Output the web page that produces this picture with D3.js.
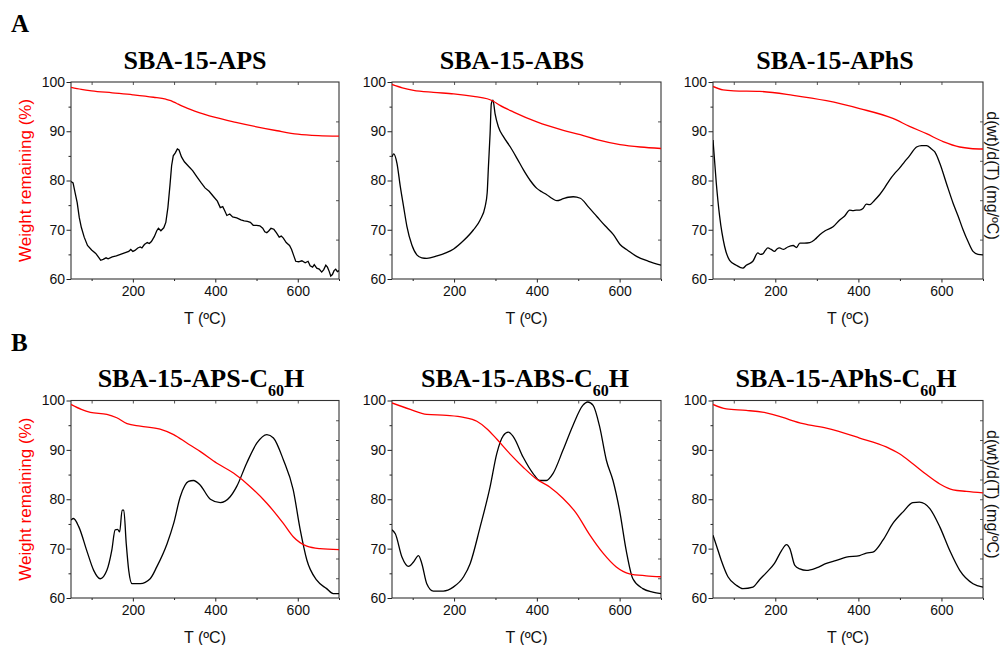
<!DOCTYPE html>
<html><head><meta charset="utf-8">
<script src="https://cdn.jsdelivr.net/npm/d3@7"></script>
<style>body{margin:0;background:#fff} svg{display:block}</style>
</head><body><svg id="c" width="1003" height="645"></svg>
<script>
// ---------- DATA ----------
const xTickValues = [200, 400, 600];
const yTickValues = [60, 70, 80, 90, 100];
const panelLetters = ["A", "B"];
const titleParts = [
  ["SBA-15-APS"], ["SBA-15-ABS"], ["SBA-15-APhS"],
  ["SBA-15-APS-C", "60", "H"], ["SBA-15-ABS-C", "60", "H"], ["SBA-15-APhS-C", "60", "H"]
];
const xLabel = "T (ºC)";
const yLabelLeft = "Weight remaining (%)";
const yLabelRight = "d(wt)/d(T) (mg/ºC)";

// SBA-15-APS
const apsTgaT = [50,75,100,150,200,250,280,292,300,310,320,350,400,450,500,550,600,650,700];
const apsTgaW = [98.9,98.5,98.2,97.8,97.4,96.9,96.5,96.2,95.9,95.5,95.1,94.1,92.8,91.8,90.9,90.1,89.4,89.1,89.0];
const apsDtgT = [50,55,60,65,70,75,82,90,100,110,118,122,128,135,140,150,160,170,180,190,195,200,205,212,218,222,228,235,240,245,252,258,262,268,275,280,285,290,294,298,303,308,312,318,325,335,345,355,365,375,385,395,405,412,418,422,428,435,442,452,462,470,478,485,492,500,508,515,520,525,530,535,542,548,555,560,565,572,580,585,590,595,602,610,618,625,630,636,640,646,652,658,663,668,672,676,680,684,688,692,696,700];
const apsDtgV = [79.8,79.5,77.5,75.5,72.5,70.5,68.5,66.8,65.9,65.2,64.3,63.8,64.0,64.3,64.1,64.5,64.7,65.0,65.3,65.6,66.0,65.6,65.8,66.3,66.5,66.3,67.0,67.4,67.2,67.6,68.6,69.8,70.3,69.8,70.4,71.5,74.5,79.0,83.0,85.0,85.6,86.4,86.2,84.8,83.8,82.9,82.0,80.8,79.6,78.5,77.8,76.8,75.8,74.5,74.7,74.0,72.9,73.2,72.6,72.4,72.0,71.8,71.7,71.5,70.9,70.9,70.8,70.3,69.6,69.4,69.8,70.3,70.1,69.4,68.5,68.7,68.3,67.4,66.8,66.0,64.8,63.6,63.5,63.7,63.3,63.6,62.7,62.4,62.9,62.2,62.0,61.4,61.9,62.8,62.4,61.6,60.6,60.9,61.7,62.0,61.5,61.7];

// SBA-15-ABS
const absTgaT = [50,75,102,150,199,247,280,295,310,344,400,464,505,545,601,650,700];
const absTgaW = [99.5,98.8,98.3,97.9,97.6,97.1,96.6,96.1,95.3,93.9,91.9,90.2,89.3,88.3,87.3,86.8,86.5];
const absDtgT = [50,54,62,70,78,86,98,110,122,134,159,180,199,223,247,263,275,280,283,287,290,294,299,307,320,336,352,368,384,400,412,424,436,448,464,476,488,505,525,545,565,585,601,620,641,670,700];
const absDtgV = [84.8,85.4,83.5,78.8,74.7,70.7,66.9,64.9,64.3,64.2,64.7,65.3,66.1,67.8,70.0,72.0,74.7,77.5,82.8,89.5,95.6,96.3,93.6,90.9,88.8,86.8,84.5,82.1,80.0,78.4,77.7,77.1,76.4,75.9,76.3,76.6,76.7,76.4,74.6,72.7,70.8,69.0,67.0,65.8,64.6,63.6,62.8];

// SBA-15-APhS
const aphsTgaT = [50,74,100,162,243,323,403,483,523,564,604,644,670,700];
const aphsTgaW = [99.1,98.4,98.2,98.1,97.3,96.2,94.6,92.6,91.0,89.5,87.9,86.8,86.5,86.4];
const aphsDtgT = [50,58,66,78,90,106,122,130,146,158,164,170,176,182,190,198,204,210,220,230,243,251,259,270,283,295,307,320,339,355,367,379,387,395,403,411,419,427,439,451,463,475,487,499,511,523,540,552,564,576,584,596,612,628,640,652,664,676,688,700];
const aphsDtgV = [88.2,79.4,72.7,66.6,63.8,62.8,62.2,62.8,63.6,65.3,65.0,65.1,65.8,66.3,66.0,65.6,66.1,66.3,66.0,66.5,66.8,66.4,67.3,67.3,67.4,68.0,69.0,69.8,70.6,72.0,72.8,74.0,73.9,74.0,74.0,74.3,75.2,75.1,76.0,77.1,78.5,80.1,81.4,82.5,83.8,85.0,86.8,87.1,87.1,86.4,85.8,83.5,79.4,75.4,72.8,70.0,67.6,65.6,65.0,64.9];

// SBA-15-APS-C60H
const apsCTgaT = [50,75,97,137,161,186,218,266,299,331,363,404,444,484,525,565,589,622,654,700];
const apsCTgaW = [99.2,98.2,97.6,97.2,96.5,95.3,94.8,94.2,93.1,91.4,89.7,87.3,85.3,82.6,79.2,75.1,72.4,70.5,70.0,69.8];
const apsCDtgT = [50,56,69,89,105,121,137,149,157,163,168,174,178,184,190,198,218,242,258,283,299,315,335,347,363,388,412,436,452,476,501,525,541,565,589,606,622,646,670,686,700];
const apsCDtgV = [75.8,76.1,74.4,69.4,65.6,63.9,65.6,69.7,73.8,73.9,73.4,77.8,77.8,71.0,65.6,62.9,62.9,63.9,66.3,71.0,75.1,80.5,83.6,83.8,82.9,80.0,79.3,80.5,82.6,87.3,91.4,93.1,92.4,88.0,81.9,73.8,67.7,63.6,61.9,60.9,60.9];

// SBA-15-ABS-C60H
const absCTgaT = [50,94,134,182,223,255,279,303,335,367,399,431,463,495,527,560,592,624,664,700];
const absCTgaW = [99.5,98.2,97.2,97.0,96.6,95.8,94.3,92.2,89.2,86.5,84.1,82.5,80.2,77.2,72.9,69.1,66.3,64.9,64.5,64.3];
const absCDtgT = [50,58,74,90,102,114,122,134,150,174,198,223,239,263,287,303,319,331,343,367,391,407,423,439,463,487,511,523,536,552,568,584,600,616,632,656,680,700];
const absCDtgV = [73.8,73.0,68.3,66.4,67.3,68.6,67.0,62.9,61.4,61.4,62.2,64.3,67.0,74.4,82.5,89.2,92.9,93.6,92.7,88.5,85.2,83.8,83.8,85.2,89.9,94.9,99.0,99.7,99.0,94.6,87.9,83.8,77.7,69.6,63.9,61.9,61.2,60.9];

// SBA-15-APhS-C60H
const aphsCTgaT = [50,82,130,178,210,235,267,323,403,467,499,531,564,596,628,660,700];
const aphsCTgaW = [99.2,98.3,98.0,97.5,96.8,96.1,95.3,94.4,92.4,90.6,89.2,87.2,85.0,83.1,81.9,81.6,81.3];
const aphsCDtgT = [50,58,70,86,106,122,146,162,178,198,215,227,235,247,259,275,299,323,347,371,403,419,435,459,483,507,531,547,572,596,620,644,676,700];
const aphsCDtgV = [72.7,70.7,67.6,64.3,62.6,61.9,62.2,63.7,65.1,67.0,69.6,70.8,70.0,66.6,65.9,65.6,66.1,67.0,67.6,68.3,68.6,69.1,69.3,71.7,75.1,77.4,79.3,79.4,78.1,74.4,69.6,65.6,62.9,62.2];

const tgaT = [apsTgaT, absTgaT, aphsTgaT, apsCTgaT, absCTgaT, aphsCTgaT];
const tgaW = [apsTgaW, absTgaW, aphsTgaW, apsCTgaW, absCTgaW, aphsCTgaW];
const dtgT = [apsDtgT, absDtgT, aphsDtgT, apsCDtgT, absCDtgT, aphsCDtgT];
const dtgV = [apsDtgV, absDtgV, aphsDtgV, apsCDtgV, absCDtgV, aphsCDtgV];

// ---------- LAYOUT ----------
const svg = d3.select("#c");
const cols = [{l:71, r:339}, {l:392, r:661}, {l:713, r:983}];
const rows = [{t:82, b:279, titleY:69, letterY:32, rightDiv:5}, {t:400.5, b:598, titleY:387, letterY:351, rightDiv:10}];
const titleX = [[195, 512, 835], [201, 525, 846]];
const sans = "Liberation Sans, Arial, sans-serif";
const serif = "Liberation Serif, Times New Roman, serif";

rows.forEach((row, ri) => {
  svg.append("text").attr("x", 11).attr("y", row.letterY)
    .attr("font-family", serif).attr("font-weight", "bold").attr("font-size", 25)
    .text(panelLetters[ri]);
  cols.forEach((col, ci) => {
    const idx = ri * 3 + ci;
    const x = d3.scaleLinear().domain([50, 700]).range([col.l, col.r]);
    const y = d3.scaleLinear().domain([60, 100]).range([row.b, row.t]);
    const yR = d3.scaleLinear().domain([0, row.rightDiv]).range([row.b, row.t]);
    const g = svg.append("g");

    // title
    const tt = g.append("text").attr("x", titleX[ri][ci]).attr("y", row.titleY)
      .attr("text-anchor", "middle").attr("font-family", serif)
      .attr("font-weight", "bold").attr("font-size", 26);
    const parts = titleParts[idx];
    tt.append("tspan").text(parts[0]);
    if (parts.length > 1) {
      tt.append("tspan").attr("font-size", 16).attr("dy", 9).text(parts[1]);
      tt.append("tspan").attr("dy", -9).text(parts[2]);
    }

    // bottom axis
    const xb = d3.axisBottom(x).tickValues(xTickValues).tickSize(3.5).tickPadding(4);
    const bax = g.append("g").attr("transform", `translate(0,${row.b})`).call(xb);
    bax.select(".domain").remove();
    bax.selectAll("text").attr("font-family", sans).attr("font-size", 14).attr("fill", "#111");
    bax.selectAll("line").attr("stroke", "#222");
    const xMinor = d3.axisBottom(x).tickValues([100, 300, 500, 700]).tickSize(2).tickFormat("");
    const bmi = g.append("g").attr("transform", `translate(0,${row.b})`).call(xMinor);
    bmi.select(".domain").remove(); bmi.selectAll("line").attr("stroke", "#222");

    // top ticks
    const xt = d3.axisBottom(x).tickValues([100,200,300,400,500,600]).tickSize(3).tickFormat("");
    const tax = g.append("g").attr("transform", `translate(0,${row.t})`).call(xt);
    tax.select(".domain").remove(); tax.selectAll("line").attr("stroke", "#555");

    // left axis
    const yl = d3.axisLeft(y).tickValues(yTickValues).tickSize(4.5).tickPadding(1.5);
    const lax = g.append("g").attr("transform", `translate(${col.l},0)`).call(yl);
    lax.select(".domain").remove();
    lax.selectAll("text").attr("font-family", sans).attr("font-size", 14).attr("fill", "#111");
    lax.selectAll("line").attr("stroke", "#222");
    const yMinor = d3.axisLeft(y).tickValues([65, 75, 85, 95]).tickSize(2.5).tickFormat("");
    const lmi = g.append("g").attr("transform", `translate(${col.l},0)`).call(yMinor);
    lmi.select(".domain").remove(); lmi.selectAll("line").attr("stroke", "#222");

    // right ticks (inward)
    const yr = d3.axisRight(yR).tickValues(d3.range(1, row.rightDiv)).tickSize(-3).tickFormat("");
    const rax = g.append("g").attr("transform", `translate(${col.r},0)`).call(yr);
    rax.select(".domain").remove(); rax.selectAll("line").attr("stroke", "#555");

    // frame
    g.append("rect").attr("x", col.l).attr("y", row.t)
      .attr("width", col.r - col.l).attr("height", row.b - row.t)
      .attr("fill", "none").attr("stroke", "#333").attr("stroke-width", 1.1);

    // clip
    const cid = "clip" + idx;
    svg.append("clipPath").attr("id", cid).append("rect")
      .attr("x", col.l).attr("y", row.t - 2).attr("width", col.r - col.l).attr("height", row.b - row.t + 2);

    const smooth = idx !== 0;
    const lineDtg = d3.line().x(d => x(d[0])).y(d => y(d[1]))
      .curve(smooth ? d3.curveMonotoneX : d3.curveLinear);
    const lineTga = d3.line().x(d => x(d[0])).y(d => y(d[1])).curve(d3.curveMonotoneX);

    const dtgData = d3.zip(dtgT[idx], dtgV[idx]);
    const tgaData = d3.zip(tgaT[idx], tgaW[idx]);
    g.append("path").attr("clip-path", `url(#${cid})`).attr("d", lineDtg(dtgData))
      .attr("fill", "none").attr("stroke", "#000").attr("stroke-width", 1.3);
    g.append("path").attr("clip-path", `url(#${cid})`).attr("d", lineTga(tgaData))
      .attr("fill", "none").attr("stroke", "#ff0000").attr("stroke-width", 1.3);

    // x label
    g.append("text").attr("x", (col.l + col.r) / 2).attr("y", row.b + 45)
      .attr("text-anchor", "middle").attr("font-family", sans).attr("font-size", 16)
      .attr("fill", "#111").text(xLabel);

    if (ci === 0) {
      g.append("text")
        .attr("transform", `translate(31,${(row.t + row.b) / 2}) rotate(-90)`)
        .attr("text-anchor", "middle").attr("font-family", sans).attr("font-size", 17)
        .attr("fill", "#ff0000").text(yLabelLeft);
    }
    if (ci === 2) {
      g.append("text")
        .attr("transform", `translate(987,${(row.t + row.b) / 2 - 5}) rotate(90)`)
        .attr("text-anchor", "middle").attr("font-family", sans).attr("font-size", 16)
        .attr("fill", "#111").text(yLabelRight);
    }
  });
});
</script></body></html>
